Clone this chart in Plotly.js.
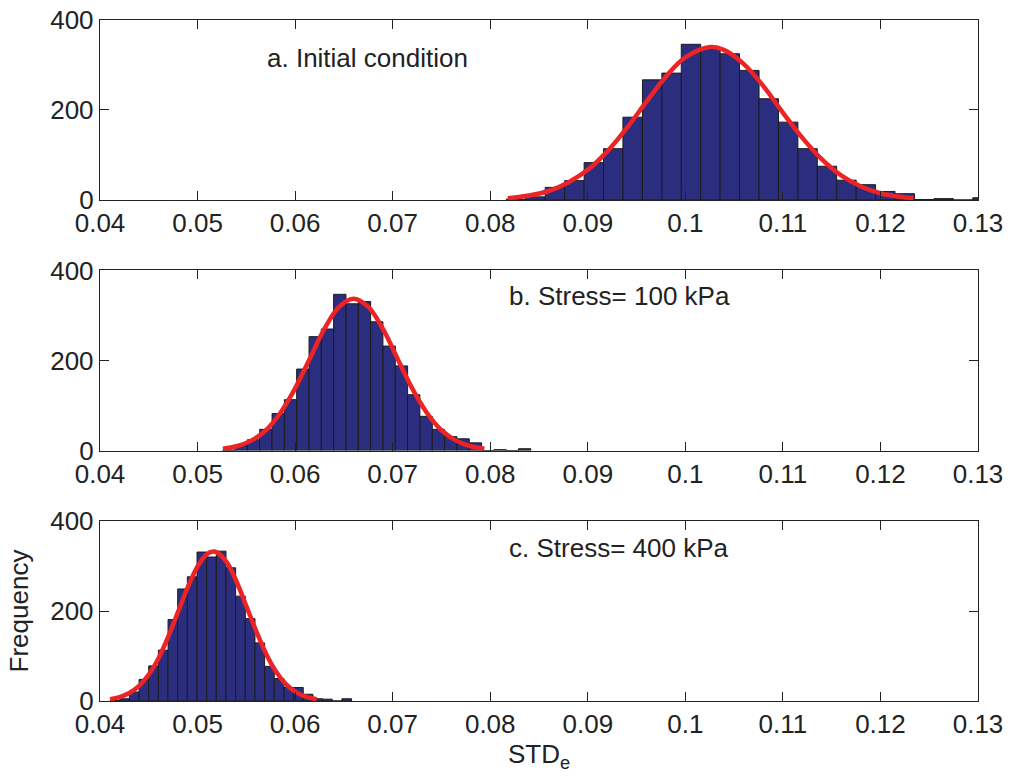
<!DOCTYPE html>
<html><head><meta charset="utf-8">
<script src="https://cdn.plot.ly/plotly-3.0.1.min.js"></script>
<style>html,body{margin:0;padding:0;background:#fff}#chart{width:1010px;height:780px}</style>
</head><body><div id="chart"></div>
<script>
// ---- tick labels ----
const xTickVals = [0.04, 0.05, 0.06, 0.07, 0.08, 0.09, 0.10, 0.11, 0.12, 0.13];
const xTickText = ['0.04', '0.05', '0.06', '0.07', '0.08', '0.09', '0.1', '0.11', '0.12', '0.13'];
const yTickVals = [0, 200, 400];
const yTickText = ['0', '200', '400'];

// ---- panel labels ----
const panelLabels = ['a. Initial condition', 'b. Stress= 100 kPa', 'c. Stress= 400 kPa'];
const xTitle = 'STD<sub>e</sub>';
const yTitle = 'Frequency';

// ---- panel a: histogram (bin centres, counts) ----
const binsA = [0.08265, 0.08464, 0.08663, 0.08863, 0.09062, 0.09261, 0.09460, 0.09660, 0.09859, 0.10058,
               0.10257, 0.10456, 0.10656, 0.10855, 0.11054, 0.11253, 0.11452, 0.11652, 0.11851, 0.12050,
               0.12249, 0.12448, 0.12648, 0.12847, 0.13046];
const countsA = [2, 7, 28, 43, 83, 114, 184, 267, 282, 346,
                 335, 325, 288, 225, 173, 114, 75, 44, 34, 19,
                 14, 1, 3, 0, 5];
// fitted curve a
const curveAx = [0.0818, 0.084, 0.086, 0.088, 0.090, 0.092, 0.094, 0.096, 0.098, 0.100, 0.1026,
                 0.104, 0.106, 0.108, 0.110, 0.112, 0.114, 0.116, 0.118, 0.120, 0.122, 0.1234];
const curveAy = [4, 10, 20, 39, 67, 108, 160, 218, 274, 317, 340,
                 333, 302, 253, 194, 138, 90, 54, 30, 15, 7, 4];

// ---- panel b ----
const binsB = [0.05321, 0.05448, 0.05574, 0.05700, 0.05827, 0.05953, 0.06079, 0.06206, 0.06332, 0.06458,
               0.06585, 0.06711, 0.06837, 0.06964, 0.07090, 0.07216, 0.07343, 0.07469, 0.07595, 0.07722,
               0.07848, 0.07974, 0.08101, 0.08227, 0.08353];
const countsB = [1, 11, 24, 47, 82, 113, 181, 253, 270, 347,
                 326, 331, 286, 232, 188, 124, 76, 47, 31, 26,
                 17, 0, 2, 0, 4];
const curveBx = [0.0526, 0.054, 0.0555, 0.057, 0.0585, 0.060, 0.0615, 0.063, 0.0645, 0.066,
                 0.0675, 0.069, 0.0705, 0.072, 0.0735, 0.075, 0.0765, 0.078, 0.0794];
const curveBy = [4, 9.5, 22, 45, 84, 138, 204, 270, 319, 337,
                 319, 270, 204, 138, 84, 45, 22, 9.5, 4];

// ---- panel c ----
const binsC = [0.04153, 0.04252, 0.04351, 0.04450, 0.04549, 0.04648, 0.04747, 0.04846, 0.04945, 0.05044,
               0.05143, 0.05242, 0.05341, 0.05440, 0.05539, 0.05638, 0.05737, 0.05836, 0.05935, 0.06034,
               0.06133, 0.06232, 0.06331, 0.06430, 0.06529];
const countsC = [1, 5, 20, 48, 78, 113, 181, 249, 276, 331,
                 320, 333, 296, 233, 183, 129, 77, 50, 30, 30,
                 15, 5, 4, 0, 5];
const curveCx = [0.04103, 0.042, 0.043, 0.044, 0.045, 0.046, 0.047, 0.048, 0.049, 0.050, 0.051, 0.05162,
                 0.052, 0.053, 0.054, 0.055, 0.056, 0.057, 0.058, 0.059, 0.060, 0.061, 0.06221];
const curveCy = [4, 8.6, 17.6, 33.5, 58.8, 95, 143, 198, 253, 299, 327, 332,
                 330, 308, 265, 211, 156, 106, 66.5, 38.6, 20.8, 10.3, 4];

// ---- styles ----
const FONT = 'Liberation Sans, Arial, Helvetica, sans-serif';
const barColor = '#2b2e7e';
const edgeColor = '#1c1c1c';
const fitColor = '#ee2326';

function barTrace(x, y, w, xa, ya) {
  return {type: 'bar', x: x, y: y, width: w, xaxis: xa, yaxis: ya,
          marker: {color: barColor, line: {color: edgeColor, width: 1}},
          hoverinfo: 'x+y', showlegend: false};
}
function fitTrace(x, y, xa, ya) {
  return {type: 'scatter', mode: 'lines', x: x, y: y, xaxis: xa, yaxis: ya,
          line: {color: fitColor, width: 4.5, shape: 'spline', smoothing: 1},
          hoverinfo: 'skip', showlegend: false};
}

const data = [
  barTrace(binsA, countsA, 0.001992, 'x', 'y'),
  fitTrace(curveAx, curveAy, 'x', 'y'),
  barTrace(binsB, countsB, 0.001263, 'x2', 'y2'),
  fitTrace(curveBx, curveBy, 'x2', 'y2'),
  barTrace(binsC, countsC, 0.00099, 'x3', 'y3'),
  fitTrace(curveCx, curveCy, 'x3', 'y3')
];

function xAxis(anchor) {
  return {anchor: anchor, range: [0.04, 0.13], tickmode: 'array', tickvals: xTickVals, ticktext: xTickText,
          ticks: 'inside', ticklen: 9, tickwidth: 1, tickcolor: '#222',
          showline: true, linecolor: '#222', linewidth: 1.2, mirror: 'ticks',
          showgrid: false, zeroline: false, fixedrange: true,
          tickfont: {family: FONT, size: 26, color: '#222'}};
}
function yAxis(anchor, domain) {
  return {anchor: anchor, domain: domain, range: [0, 400], tickmode: 'array', tickvals: yTickVals, ticktext: yTickText,
          ticks: 'inside', ticklen: 9, tickwidth: 1, tickcolor: '#222',
          showline: true, linecolor: '#222', linewidth: 1.2, mirror: 'ticks',
          showgrid: false, zeroline: false, fixedrange: true,
          tickfont: {family: FONT, size: 26, color: '#222'}};
}

const xa3 = xAxis('y3');
xa3.title = {text: xTitle, font: {family: FONT, size: 26, color: '#222'}, standoff: 0};
const ya3 = yAxis('x3', [0, 0.2643]);
ya3.title = {text: yTitle, font: {family: FONT, size: 26, color: '#222'}, standoff: 14};

function label(text, x, y, xr, yr) {
  return {text: text, x: x, y: y, xref: xr, yref: yr, xanchor: 'left', yanchor: 'middle',
          showarrow: false, font: {family: FONT, size: 26, color: '#222'}};
}

const layout = {
  width: 1010, height: 780,
  margin: {l: 100, r: 32, t: 20, b: 79},
  paper_bgcolor: '#fff', plot_bgcolor: '#fff',
  bargap: 0, showlegend: false,
  font: {family: FONT, size: 26, color: '#222'},
  xaxis: xAxis('y'),
  yaxis: yAxis('x', [0.7357, 1]),
  xaxis2: xAxis('y2'),
  yaxis2: yAxis('x2', [0.3678, 0.6322]),
  xaxis3: xa3,
  yaxis3: ya3,
  annotations: [
    label(panelLabels[0], 0.0569, 316, 'x', 'y'),
    label(panelLabels[1], 0.0817, 343, 'x2', 'y2'),
    label(panelLabels[2], 0.0817, 339, 'x3', 'y3')
  ]
};

Plotly.newPlot('chart', data, layout, {displayModeBar: false, staticPlot: true});
</script>
</body></html>
